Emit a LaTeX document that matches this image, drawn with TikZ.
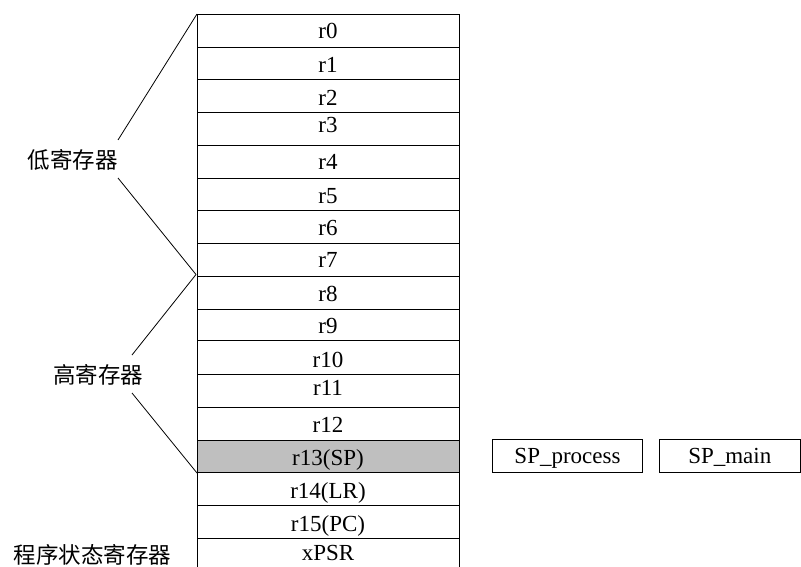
\documentclass[tikz,border=0pt]{standalone}
\usepackage{fontspec}
\setmainfont{Liberation Serif}
\newfontfamily\cjk{Noto Sans CJK SC}
\begin{document}
\begin{tikzpicture}[x=1pt,y=-1pt,
  regline/.style={draw=black,line width=0.8pt},
  regtext/.style={anchor=base,inner sep=0pt,font=\fontsize{23}{23}\selectfont},
  cjklabel/.style={inner sep=0pt,font=\cjk\fontsize{22.5}{22.5}\selectfont},
  spbox/.style={draw=black,line width=0.8pt,inner sep=0pt,minimum height=33.4pt,
    text height=18pt,text depth=4pt,font=\fontsize{23}{23}\selectfont},
  brace/.style={draw=black,line width=0.8pt}]
\useasboundingbox (0,0) rectangle (801,567);
% shaded r13 row
\fill[gray!50] (197,440) rectangle (459,472.7);
% register rows
\foreach \t/\b/\y/\txt/\nm in {
  14/47/39/r0/r0, 47/79.7/72.7/r1/r1, 79.7/112.3/106/r2/r2, 112.3/145/133/r3/r3,
  145/178/170/r4/r4, 178/210.3/204/r5/r5, 210.3/243.3/236/r6/r6, 243.3/276/267.7/r7/r7,
  276/309/301.7/r8/r8, 309/340.3/333/r9/r9, 340.3/374.3/367.3/r10/r10, 374.3/407/395/r11/r11,
  407/440/432.7/r12/r12, 440/472.7/465/r13(SP)/r13, 472.7/505.3/498/r14(LR)/r14,
  505.3/538.3/531/r15(PC)/r15, 538.3/571/560/xPSR/xpsr}{
  \draw[regline] (197,\t) rectangle (459,\b);
  \node[regtext] (\nm) at (328,\y) {\txt};
}
% SP boxes
\node[spbox,minimum width=150.4pt] (spp) at (567.5,456) {SP\_process};
\node[spbox,minimum width=141pt] (spm) at (729.8,456) {SP\_main};
% labels
\node[cjklabel] (low) at (72.5,160) {低寄存器};
\node[cjklabel] (high) at (98,375) {高寄存器};
\node[cjklabel] (psr) at (92.5,555) {程序状态寄存器};
% brace lines
\coordinate (lowA) at (118,140);
\coordinate (lowB) at (118,178);
\coordinate (highA) at (132,355);
\coordinate (highB) at (132,393);
\coordinate (top) at (197,14);
\coordinate (mid) at (196,274.5);
\coordinate (bot) at (197,473);
\draw[brace] (lowA) -- (top);
\draw[brace] (lowB) -- (mid);
\draw[brace] (highA) -- (mid);
\draw[brace] (highB) -- (bot);
\end{tikzpicture}
\end{document}
